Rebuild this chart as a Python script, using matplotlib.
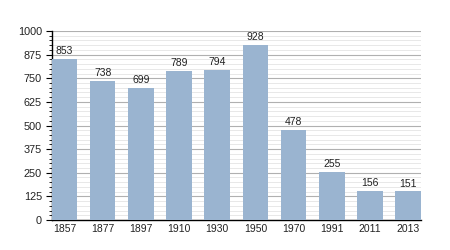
import matplotlib
matplotlib.use("Agg")
import matplotlib.pyplot as plt
import numpy as np
from matplotlib.ticker import MultipleLocator

years = ["1857", "1877", "1897", "1910", "1930", "1950", "1970", "1991", "2011", "2013"]
population = [853, 738, 699, 789, 794, 928, 478, 255, 156, 151]

plt.rcParams['font.family'] = ['Liberation Sans', 'DejaVu Sans']

fig = plt.figure(figsize=(4.5, 2.5), dpi=100)
ax = fig.add_axes([51.7/450, 0.12, (421-51.7)/450, 0.756])

x = np.arange(len(years))
w = 0.67
bars = ax.bar(x, population, width=w, color="#9ab4d0", zorder=3)
for xi, v in zip(x, population):
    ax.text(xi, v + 14, str(v), ha="center", va="bottom", fontsize=7.5, color="#222222", zorder=4)

ax.set_xlim(-w/2, len(years) - 1 + w/2)
ax.set_ylim(0, 1000)
ax.set_xticks(x)
ax.set_xticklabels(years, fontsize=7.5, color="#222222")
ax.yaxis.set_major_locator(MultipleLocator(125))
ax.yaxis.set_minor_locator(MultipleLocator(25))
ax.tick_params(axis="y", which="major", length=4, width=0.8, labelsize=7.8, pad=3, labelcolor="#222222")
ax.tick_params(axis="y", which="minor", length=2, width=0.6)
ax.tick_params(axis="x", length=0, pad=3)
ax.grid(axis="y", which="major", color="#b0b0b0", linewidth=0.8, zorder=0)
ax.grid(axis="y", which="minor", color="#e4e4e4", linewidth=0.6, zorder=0)
for s in ["top", "right"]:
    ax.spines[s].set_visible(False)
ax.spines["left"].set_linewidth(1)
ax.spines["bottom"].set_linewidth(1)

fig.savefig("out.png", dpi=100)
